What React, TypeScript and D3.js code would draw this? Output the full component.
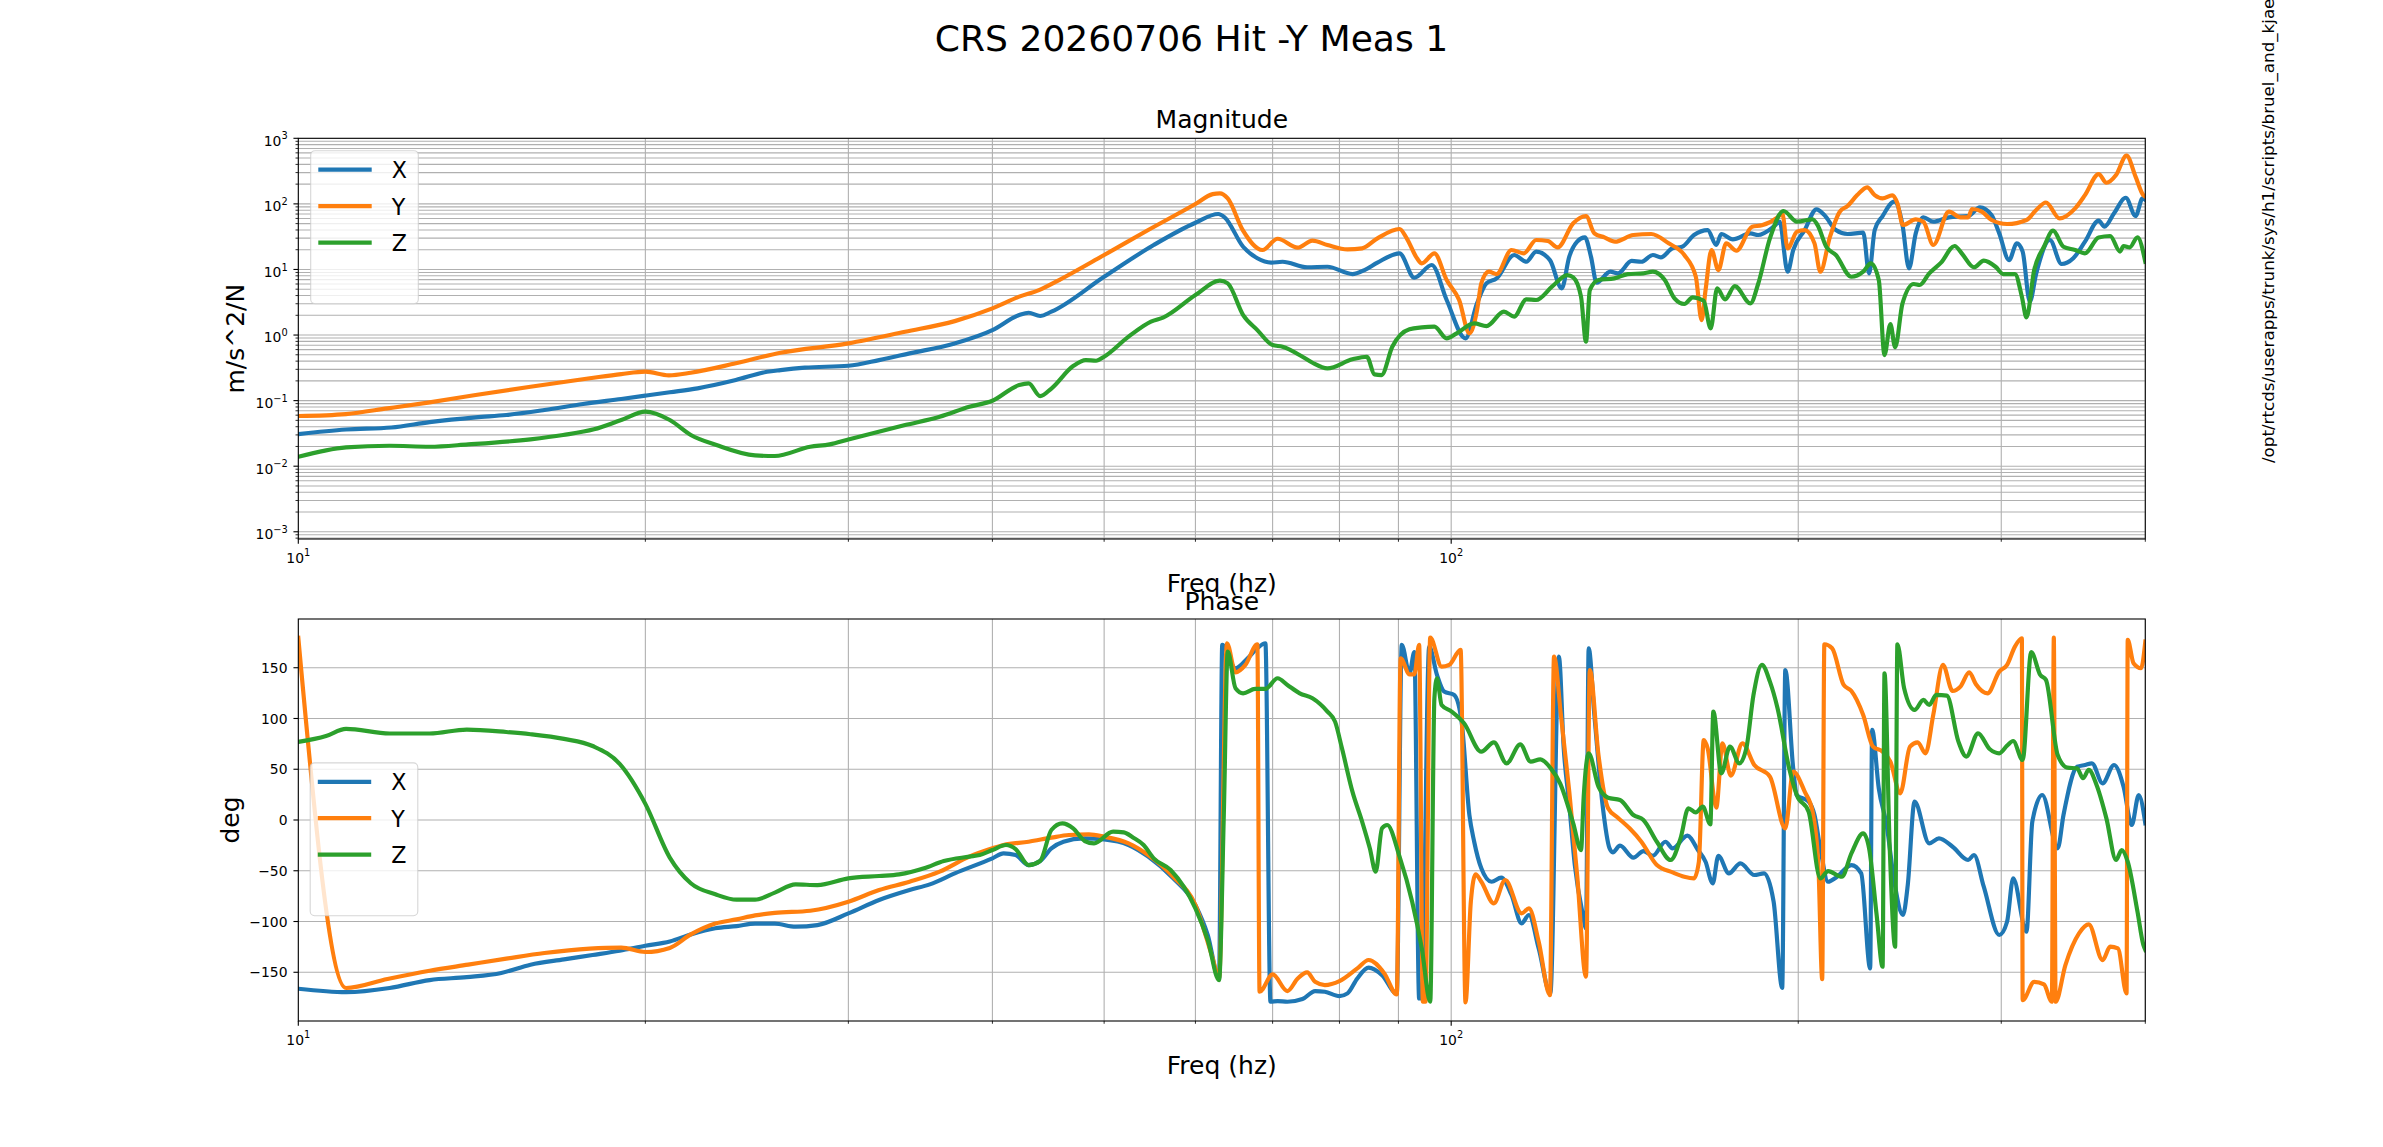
import React from 'react';
import * as d3 from 'd3';

// figure size in px (matplotlib-like layout)
const W = 2383;
const H = 1147;
const FONT = '"DejaVu Sans", sans-serif';

const seriesNames = ['X', 'Y', 'Z'];
const seriesColors = ['#1f77b4', '#ff7f0e', '#2ca02c'];

// magnitude, m/s^2/N, [Hz, value]
const magX: [number, number][] = [
  [10, 0.0309], [11, 0.0363], [12.04, 0.0389], [13, 0.0471], [14.25, 0.0556], [15.15, 0.0603],
  [16.35, 0.0718], [17.66, 0.0887], [19.06, 0.106], [20, 0.119], [21, 0.134], [22.2, 0.154],
  [23.96, 0.206], [25.5, 0.275], [26.2, 0.292], [27.5, 0.318], [30, 0.34], [31.9, 0.415],
  [33.9, 0.525], [37.1, 0.746], [40, 1.19], [42.2, 2.02], [43, 2.19], [44, 1.95], [45, 2.27],
  [50, 7.74], [55.2, 23.6], [60, 51.6], [62.8, 70.0], [63.6, 62.4], [66, 22.2], [67.9, 14.8],
  [69.8, 12.7], [71.4, 13.1], [75, 10.8], [78.1, 11.0], [82.1, 8.51], [84.1, 9.79], [86.3, 12.7],
  [90.2, 17.6], [92.9, 7.48], [96.2, 11.7], [99.1, 3.42], [102.9, 0.889], [105.3, 3.04],
  [107.3, 6.14], [109.5, 7.31], [113.4, 16.6], [116.2, 13.1], [118.5, 18.7], [121.8, 13.9],
  [124.7, 5.15], [126.6, 15.7], [128.6, 26.5], [130.6, 30.8], [132.2, 15.7], [133.7, 6.28],
  [137.4, 9.25], [139.5, 8.71], [143.4, 13.5], [146.2, 13.1], [149.6, 16.6], [152, 15.3],
  [155.6, 21.0], [158.6, 22.2], [162.4, 33.5], [166.9, 39.9], [169.8, 23.6], [171.5, 34.7],
  [175.5, 28.8], [181.8, 35.5], [184.6, 33.5], [190.4, 44.9], [192.7, 53.5], [195.8, 9.25],
  [198, 19.8], [202.6, 39.9], [207.4, 82.6], [210.7, 67.6], [215.6, 39.9], [220.7, 34.7],
  [227.7, 36.4], [230.4, 8.71], [233, 39.9], [236.7, 65.3], [242.3, 108], [246.3, 47.6],
  [249.5, 10.4], [252.9, 35.5], [256.8, 62.4], [261.9, 53.5], [270.2, 62.4], [280.8, 65.3],
  [287.5, 88.5], [294.2, 67.6], [298.8, 35.5], [304.7, 13.9], [309.5, 25.0], [313.1, 18.7],
  [317.6, 3.22], [321.7, 8.71], [330.6, 28.1], [338.4, 12.1], [346.4, 14.8], [354.6, 26.5],
  [364.4, 55.5], [368.7, 44.9], [375.8, 71.8], [384.7, 124], [392.3, 65.3], [397.8, 121], [400, 115],
];

const magY: [number, number][] = [
  [10, 0.0582], [11, 0.0624], [11.95, 0.0762], [13, 0.0942], [14.25, 0.122], [15.9, 0.163],
  [17.9, 0.219], [19.06, 0.254], [20, 0.276], [20.96, 0.243], [21.9, 0.266], [23.96, 0.371],
  [26.2, 0.537], [30, 0.746], [33.6, 1.12], [37.1, 1.63], [40, 2.55], [42.2, 3.85], [43.9, 4.85],
  [45.7, 6.9], [50, 16.6], [54.6, 39.9], [60, 99.5], [62.1, 141], [63, 145], [64, 121],
  [65.95, 39.9], [68.6, 19.8], [70.7, 29.4], [73.6, 21.5], [75.8, 27.5], [78.1, 23.6], [81.3, 20.2],
  [83.7, 21.0], [86.3, 29.8], [90.2, 41.4], [91.5, 29.8], [93.4, 14.8], [94.3, 12.4], [96.7, 17.6],
  [99.1, 6.9], [101.6, 3.42], [103.7, 1.06], [105.3, 2.4], [106.2, 6.14], [107.8, 9.25],
  [109.5, 8.51], [112.8, 19.8], [115.6, 17.6], [118.5, 28.1], [121.3, 27.2], [123.7, 21.7],
  [127.6, 50.5], [130.9, 65.3], [133.1, 35.5], [135.8, 30.8], [138.7, 26.5], [143.9, 33.5],
  [149.1, 34.7], [154.4, 25.0], [159.3, 16.6], [163, 7.74], [164.9, 1.69], [166.2, 4.85],
  [168.2, 19.8], [170.5, 9.79], [173.2, 25.0], [176.8, 19.3], [182.4, 44.9], [186, 47.1],
  [191.9, 62.4], [193.7, 71.8], [195.8, 21.0], [199.5, 37.7], [202.6, 39.9], [206.6, 25.0],
  [209, 9.25], [213.1, 31.6], [217.3, 76.0], [220.7, 92.7], [225, 136], [229.5, 179], [233, 136],
  [236.7, 121], [241.3, 135], [243.8, 102], [246.5, 47.6], [252.9, 58.1], [256.8, 53.5],
  [261.9, 23.6], [270.2, 76.0], [276.5, 62.4], [280.8, 62.4], [283, 83.6], [288.6, 76.0],
  [294.2, 56.8], [303.5, 49.3], [315.5, 56.8], [321.7, 80.7], [328, 105], [337.1, 60.1],
  [347.7, 85.5], [354.6, 136], [364.4, 285], [370.1, 210], [377.3, 275], [385.3, 543],
  [392.3, 260], [398.4, 136], [400, 129],
];

const magZ: [number, number][] = [
  [10, 0.0139], [11, 0.0194], [12, 0.0205], [13, 0.0198], [14.04, 0.0215], [15.9, 0.0257],
  [16.97, 0.0299], [18.05, 0.0365], [19.06, 0.0506], [20, 0.0678], [21, 0.0506], [21.9, 0.0299],
  [23.05, 0.021], [24.9, 0.0146], [25.9, 0.0143], [27.8, 0.0198], [28.9, 0.0215], [30, 0.0256],
  [33.6, 0.0424], [36, 0.0568], [38.2, 0.0807], [40, 0.0995], [42.2, 0.173], [43, 0.183],
  [44, 0.117], [45, 0.153], [47, 0.337], [48.2, 0.415], [49.2, 0.406], [50, 0.467], [52.5, 0.944],
  [54.9, 1.6], [56.3, 1.86], [60, 4.07], [63, 6.75], [64, 6.14], [66, 2.02], [67.9, 1.19],
  [70, 0.703], [71.4, 0.664], [74.3, 0.467], [75.8, 0.378], [78.1, 0.31], [82.1, 0.426],
  [84.5, 0.467], [85.8, 0.251], [87, 0.245], [88.9, 0.664], [92, 1.23], [94.3, 1.31], [96.7, 1.34],
  [99.1, 0.889], [101.1, 1.06], [104.7, 1.51], [107.3, 1.37], [111.1, 2.27], [113.4, 1.91],
  [116.2, 3.5], [118.5, 3.42], [122.3, 5.46], [126.1, 8.22], [127.6, 7.57], [129.6, 3.85],
  [130.9, 0.791], [131.9, 4.85], [134.2, 6.9], [138.5, 7.31], [142.3, 8.51], [146.8, 8.71],
  [149.6, 9.25], [153.2, 6.9], [156.2, 3.62], [159.3, 2.97], [162, 3.76], [165.6, 3.34],
  [167.9, 1.26], [170.1, 5.15], [172.8, 3.5], [176.2, 5.58], [181.8, 3.04], [184.6, 6.0],
  [189, 29.8], [194.2, 77.8], [199.5, 53.5], [205.8, 58.1], [208.2, 44.9], [211.5, 22.2],
  [215.6, 16.6], [222.4, 7.74], [227.7, 9.25], [231.2, 12.4], [234.9, 6.9], [237.6, 0.495],
  [240.4, 1.47], [242.7, 0.649], [246.3, 3.04], [251.9, 6.0], [254.9, 5.79], [259.8, 8.71],
  [266, 12.7], [273.3, 22.8], [277.5, 17.2], [284.1, 10.8], [289.7, 13.6], [296.6, 11.0],
  [301.2, 8.51], [308.3, 8.51], [312.6, 3.85], [315.5, 1.86], [320.4, 9.79], [326.7, 22.2],
  [332.7, 39.0], [339.7, 22.2], [347.7, 19.8], [354.6, 17.6], [364.4, 30.8], [372.9, 32.4],
  [380.3, 18.7], [383, 22.8], [387.7, 21.7], [393.8, 30.8], [400, 13.1],
];

// phase, deg, [Hz, value]
const phaseX: [number, number][] = [
  [10, -166.2], [11, -169.6], [12, -165.5], [13, -157.7], [14, -154.8], [15, -150.7], [15.9, -142.5],
  [17, -137.3], [18, -133], [19, -128.8], [20, -123.9], [21, -119.7], [21.9, -112.7], [23, -106.6],
  [24, -104.5], [24.9, -102.1], [25.9, -102.1], [27, -105.1], [28.2, -103.5], [30, -92.0],
  [31.9, -78.8], [33.9, -69.0], [35.3, -63.4], [37.1, -52.6], [40, -37.8], [40.9, -32.9],
  [41.9, -34.5], [43, -44.4], [44, -40.4], [45, -27.9], [46.1, -21.4], [48, -18.1], [50, -19.1],
  [52.5, -24.6], [54.6, -36.1], [57.4, -57.5], [60, -83.8], [61.5, -113.3], [62.9, -156.1],
  [63.3, 172.5], [65, 149.5], [66.6, 159.3], [67.9, 169.2], [69, 174.1], [69.7, -179.0],
  [70.7, -178.4], [72.1, -179.0], [74.3, -176.4], [76.2, -168.5], [77.7, -169.2], [80, -173.5],
  [81.3, -170.8], [82.9, -156.1], [84.8, -145.5], [87.1, -152.8], [89.7, -170.8], [90.6, 172.5],
  [92, 144.5], [92.9, 165.3], [93.8, -175.8], [94.3, -175.8], [95.7, 170.8], [97.2, 142.9],
  [98.6, 126.5], [100.6, 123.2], [102.1, 96.9], [103.7, 4.9], [104.7, -21.4], [106.2, -47.6],
  [108.4, -60.8], [110.5, -56.8], [112.8, -73.9], [115.1, -101.8], [116.8, -93.6], [119.1, -126.5],
  [121.9, -170.8], [124, 161.0], [125.2, 70.6], [126.6, 14.8], [128, -44.4], [130.1, -93.6],
  [130.9, -106.8], [131.6, 169.2], [133.1, 103.5], [135.3, 14.8], [137.2, -27.9], [138.1, -31.9],
  [140.1, -25.3], [143.9, -37.1], [146.8, -30.6], [149.6, -35.2], [153.4, -21.4], [155.6, -27.9],
  [160.3, -15.4], [163.7, -29.6], [166.2, -41.1], [168.6, -62.4], [170.5, -35.2], [174.1, -52.6],
  [178.2, -42.7], [183.2, -54.2], [186.8, -52.6], [190.4, -80.5], [193.7, -165.3], [194.9, 147.8],
  [198, 50.9], [199.4, 24.6], [204.2, 18.1], [206.6, 4.9], [209, -27.9], [212.3, -60.8],
  [215.6, -56.8], [222.4, -44.4], [226.8, -52.6], [230.9, -146.2], [231.8, 88.7], [234.9, 31.2],
  [238.6, -4.9], [242.3, -60.8], [246.5, -93.6], [248.9, -64.1], [252.3, 18.1], [259.8, -23.0],
  [264.9, -18.1], [272.2, -26.3], [280.8, -39.4], [284.1, -34.5], [289.7, -65.7], [298.8, -113.3],
  [303.5, -100.2], [307.2, -57.5], [315.5, -110.1], [319.2, -1.6], [325.6, 24.6], [335.8, -27.9],
  [339.7, 4.9], [349.1, 52.5], [354.6, 54.2], [359.6, 55.8], [367.3, 36.1], [375.8, 54.2],
  [383, 32.8], [389.3, -4.9], [394.8, 24.6], [400, -3.3],
];

const phaseY: [number, number][] = [
  [10, 179.5], [11, -165.5], [11.95, -156.6], [13, -148.5], [14.04, -142.5], [15.15, -136.6],
  [16.35, -131], [17.9, -126.7], [19.06, -125.7], [20, -130], [21, -126], [21.9, -112.7],
  [23, -102], [24, -97.9], [24.9, -94], [25.9, -91.5], [27.8, -89.4], [30, -80.5], [31.9, -69.0],
  [33.9, -60.8], [36, -50.9], [38.2, -36.1], [40, -27.9], [40.9, -24.6], [43, -21.4], [45, -17.4],
  [46.6, -14.8], [48.5, -14.1], [50, -16.4], [52.5, -23.0], [54.6, -34.5], [57.4, -55.9],
  [60, -83.8], [62.1, -136.3], [62.9, -156.1], [63.9, 174.1], [65, 145.5], [66.3, 152.8],
  [67.9, 173.1], [68.2, -169.2], [70, -152.1], [72.1, -168.5], [73.6, -156.1], [75, -150.1],
  [76.2, -159.4], [77.7, -162.6], [80, -158.7], [82.9, -146.2], [84.8, -137.9], [87.5, -151.1],
  [89.7, -171.8], [90.4, 159.3], [92, 143.5], [92.9, 143.5], [93.8, 172.5], [94.5, -179.0],
  [95, -179.0], [95.9, 179.7], [98.1, 151.1], [99.6, 152.8], [101.9, 167.6], [102.9, -179.7],
  [104, -80.5], [105, -53.6], [106.2, -60.8], [108.9, -82.1], [111.4, -59.1], [115.1, -92.0],
  [116.8, -87.1], [119.1, -119.9], [121.8, -172.5], [122.8, 161.0], [124.5, 103.5], [126.6, 27.9],
  [128.6, -54.2], [130.9, -154.4], [131.9, 147.8], [134.2, 64.0], [136.8, 11.5], [139.5, 2.3],
  [142.8, -8.2], [146.2, -21.4], [150.8, -44.4], [155.6, -51.6], [159.3, -55.9], [162.4, -57.5],
  [164, -41.1], [165.6, 78.8], [166.9, 70.6], [169.8, 12.2], [171.9, 75.5], [174.8, 43.7],
  [178.9, 75.5], [183.2, 54.2], [189, 42.7], [194.9, -8.2], [198, 47.6], [202.6, 27.9],
  [205.8, 8.2], [208.2, -44.4], [209.8, -156.7], [210.7, 173.1], [214, 169.2], [219, 133.0],
  [222.4, 127.1], [227.7, 103.5], [232.2, 72.3], [236.7, 67.3], [240.4, 57.5], [245.2, 26.3],
  [250, 72.3], [253.9, 76.5], [257.9, 65.7], [261.9, 103.5], [267, 152.8], [272.2, 127.1],
  [276.5, 131.4], [281.4, 145.5], [285.2, 133.7], [291.9, 124.8], [298.8, 146.2], [303.5, 152.8],
  [308.3, 170.8], [312.6, 179.0], [313.1, -177.4], [320.4, -159.4], [326.7, -162.0],
  [331.9, -179.0], [333.2, 179.7], [334.4, -179.0], [341, -142.9], [350.4, -111.7],
  [357.3, -102.8], [367.3, -138.0], [372.9, -124.8], [378.7, -126.5], [385.3, -170.8],
  [386.2, 177.4], [390.7, 154.4], [396.6, 149.5], [400, 175.7],
];

const phaseZ: [number, number][] = [
  [10, 76.9], [10.57, 82.8], [11, 89.8], [12, 85.2], [13, 85.2], [14, 89.1], [15.15, 86.7],
  [15.9, 84.5], [17, 79.9], [18, 72.9], [19, 55.2], [20, 15.9], [21, -37], [21.9, -62.3],
  [23, -73.2], [24, -78.5], [24.9, -78.5], [25.9, -71.5], [27, -63.4], [28.2, -64.1], [30, -57.5],
  [31.9, -55.2], [33.2, -53.6], [34.9, -47.6], [36.3, -40.4], [38.2, -36.1], [39, -34.5],
  [40, -29.6], [41.1, -24.6], [41.9, -28.6], [43, -44.4], [44, -40.4], [45, -9.9], [46, -3.3],
  [47, -8.2], [48.1, -20.7], [49, -23.0], [50.9, -11.5], [52, -12.2], [53, -17.4], [54.1, -24.6],
  [55.2, -37.8], [57.1, -49.3], [60, -87.1], [61.5, -118.3], [62.9, -157.7], [63.5, 4.9],
  [64, 165.9], [65, 129.8], [66, 124.8], [67.6, 129.1], [69, 129.1], [70.7, 139.6], [72.1, 133.0],
  [73.9, 124.8], [75.8, 119.9], [78.1, 106.8], [79.3, 96.9], [80.4, 70.6], [82.1, 27.9],
  [83.7, -1.6], [85, -27.9], [86, -50.9], [87.1, -8.2], [88, -4.9], [90.2, -36.1], [92.5, -80.5],
  [94.3, -126.5], [95.9, -179.0], [96.7, 119.9], [97.2, 139.6], [98.1, 113.3], [100.1, 106.8],
  [102.6, 95.3], [106.2, 67.3], [108.9, 76.5], [111.7, 55.8], [114.8, 74.5], [117.2, 57.5],
  [119.5, 59.8], [122, 50.9], [124.3, 36.1], [127.6, -3.3], [129.6, -29.6], [130.3, 23.0],
  [131.6, 65.7], [134.2, 32.8], [136.8, 21.9], [140.1, 19.7], [143.9, 4.9], [146.8, 0],
  [150.8, -21.4], [155, -39.4], [158.1, -18.1], [160.6, 11.5], [163, 7.5], [165.3, 13.1],
  [167.8, -4.3], [168.8, 106.8], [171.5, 46.0], [174.5, 72.3], [177.8, 55.8], [180.3, 70.6],
  [182.9, 123.2], [186, 152.8], [189, 136.3], [191.9, 110.1], [196.4, 50.9], [199.4, 24.6],
  [204.2, 8.2], [209, -57.5], [212.3, -50.3], [218.2, -55.9], [222.4, -32.9], [227.7, -13.1],
  [230.4, -27.9], [233.9, -93.6], [236.7, -144.5], [237.6, 144.5], [240.1, -27.9],
  [242.7, -124.8], [243.8, 173.1], [247.1, 129.8], [252.3, 108.4], [256.8, 118.3], [259.8, 113.3],
  [263.5, 123.2], [269.1, 122.5], [275.4, 77.2], [279.8, 62.4], [286.4, 85.4], [293.1, 69.9],
  [298.8, 65.7], [303.5, 73.2], [307.2, 77.8], [313.1, 59.1], [318.5, 165.3], [324.3, 142.9],
  [328, 138.0], [335.8, 64.0], [342.3, 51.6], [349.1, 50.9], [353.2, 41.1], [357.3, 49.3],
  [362.9, 34.5], [370.1, 1.6], [377.3, -39.4], [381.6, -29.6], [386.2, -41.1], [393.8, -90.3],
  [398.4, -122.8], [400, -128.0],
];

const magSeries = [magX, magY, magZ];
const phaseSeries = [phaseX, phaseY, phaseZ];

const freqDomain: [number, number] = [10, 400];
const magDomain: [number, number] = [7.76e-4, 1000];
const phaseDomain: [number, number] = [-198, 198];
const phaseTicks = [-150, -100, -50, 0, 50, 100, 150];
const magDecades = [-3, -2, -1, 0, 1, 2, 3];
const freqDecades = [1, 2];

const figTitle = 'CRS 20260706 Hit -Y Meas 1';
const sidePath = '/opt/rtcds/userapps/trunk/sys/h1/scripts/bruel_and_kjaer/plot_hit_results.py';

const GRID = '#b0b0b0';
const LW = 4.17;

const magBox = { left: 298.3, right: 2145.3, top: 138.3, bottom: 539 };
const phaseBox = { left: 298.3, right: 2145.3, top: 619, bottom: 1021 };

const fmtMinus = (n: number) => (n < 0 ? '\u2212' + Math.abs(n) : String(n));

function PowLabel({ x, y, exp, anchor }: { x: number; y: number; exp: number; anchor: string }) {
  return (
    <text x={x} y={y} textAnchor={anchor} fontSize={13.9} fontFamily={FONT} fill="#000">
      10<tspan dy={-6.3} fontSize={9.8}>{fmtMinus(exp)}</tspan>
    </text>
  );
}

function Legend({ left, top, rows }: { left: number; top: number; rows: number[] }) {
  return (
    <g>
      <rect x={left} y={top} width={107.6} height={rows[2] - rows[0] + 80} rx={4.4}
        fill="#fff" fillOpacity={0.8} stroke="#cccccc" strokeOpacity={0.8} strokeWidth={1.1} />
      {seriesNames.map((name, i) => (
        <g key={name}>
          <line x1={left + 7.6} x2={left + 61} y1={rows[i]} y2={rows[i]} stroke={seriesColors[i]} strokeWidth={LW} />
          <text x={left + 81} y={rows[i] + 8.4} fontSize={22.2} fontFamily={FONT} fill="#000">{name}</text>
        </g>
      ))}
    </g>
  );
}

export default function App() {
  const x = d3.scaleLog().domain(freqDomain).range([magBox.left, magBox.right]);
  const yMag = d3.scaleLog().domain(magDomain).range([magBox.bottom, magBox.top]);
  const yPh = d3.scaleLinear().domain(phaseDomain).range([phaseBox.bottom, phaseBox.top]);

  const xAll = x.ticks();
  const xMajor = freqDecades.map(e => Math.pow(10, e));
  const yMagAll = yMag.ticks();
  const yMagMajor = magDecades.map(e => Math.pow(10, e));

  const isMajorX = (v: number) => xMajor.some(m => Math.abs(m - v) / m < 1e-9);
  const isMajorY = (v: number) => yMagMajor.some(m => Math.abs(m - v) / m < 1e-9);

  const magLine = d3.line<[number, number]>()
    .x(d => x(d[0]))
    .y(d => yMag(d[1]))
    .curve(d3.curveMonotoneX);
  const phLine = d3.line<[number, number]>()
    .x(d => x(d[0]))
    .y(d => yPh(d[1]))
    .curve(d3.curveMonotoneX);

  const axesBox = (b: typeof magBox) => (
    <rect x={b.left} y={b.top} width={b.right - b.left} height={b.bottom - b.top}
      fill="none" stroke="#000" strokeWidth={1.1} />
  );

  const xTicks = (b: typeof magBox, labelY: number) => (
    <g>
      {xAll.map((v, i) => {
        const major = isMajorX(v);
        return (
          <line key={i} x1={x(v)} x2={x(v)} y1={b.bottom} y2={b.bottom + (major ? 4.86 : 2.78)}
            stroke="#000" strokeWidth={major ? 1.1 : 0.83} />
        );
      })}
      {freqDecades.map(e => (
        <PowLabel key={e} x={x(Math.pow(10, e))} y={labelY} exp={e} anchor="middle" />
      ))}
    </g>
  );

  return (
    <svg width={W} height={H} viewBox={`0 0 ${W} ${H}`}
      style={{ position: 'absolute', left: 0, top: 0, background: '#fff' }}>
      <defs>
        <clipPath id="clipMag">
          <rect x={magBox.left} y={magBox.top} width={magBox.right - magBox.left} height={magBox.bottom - magBox.top} />
        </clipPath>
        <clipPath id="clipPh">
          <rect x={phaseBox.left} y={phaseBox.top} width={phaseBox.right - phaseBox.left} height={phaseBox.bottom - phaseBox.top} />
        </clipPath>
      </defs>
      <rect x={0} y={0} width={W} height={H} fill="#fff" />

      <text x={W / 2} y={50.7} textAnchor="middle" fontSize={36.1} fontFamily={FONT}>{figTitle}</text>
      <text transform="translate(2274,463) rotate(-90)" fontSize={16.7} fontFamily={FONT}>{sidePath}</text>

      {/* magnitude */}
      <g>
        <g clipPath="url(#clipMag)">
          {yMagAll.map((v, i) => (
            <line key={'gy' + i} x1={magBox.left} x2={magBox.right} y1={yMag(v)} y2={yMag(v)} stroke={GRID} strokeWidth={1.1} />
          ))}
          {xAll.map((v, i) => (
            <line key={'gx' + i} x1={x(v)} x2={x(v)} y1={magBox.top} y2={magBox.bottom} stroke={GRID} strokeWidth={1.1} />
          ))}
          {magSeries.map((s, i) => (
            <path key={i} d={magLine(s) || ''} fill="none" stroke={seriesColors[i]} strokeWidth={LW}
              strokeLinejoin="round" strokeLinecap="square" />
          ))}
        </g>
        {axesBox(magBox)}
        {yMagAll.map((v, i) => {
          const major = isMajorY(v);
          return (
            <line key={'ty' + i} x1={magBox.left - (major ? 4.86 : 2.78)} x2={magBox.left} y1={yMag(v)} y2={yMag(v)}
              stroke="#000" strokeWidth={major ? 1.1 : 0.83} />
          );
        })}
        {magDecades.map(e => (
          <PowLabel key={e} x={287.7} y={yMag(Math.pow(10, e)) + 7.4} exp={e} anchor="end" />
        ))}
        {xTicks(magBox, 562.5)}
        <text x={(magBox.left + magBox.right) / 2} y={128.3} textAnchor="middle" fontSize={25} fontFamily={FONT}>Magnitude</text>
        <text x={(magBox.left + magBox.right) / 2} y={591.7} textAnchor="middle" fontSize={25} fontFamily={FONT}>Freq (hz)</text>
        <text transform={`translate(244,${(magBox.top + magBox.bottom) / 2}) rotate(-90)`} textAnchor="middle"
          fontSize={25} fontFamily={FONT}>m/s^2/N</text>
        <Legend left={310.7} top={150.7} rows={[169.7, 206.2, 242.7]} />
      </g>

      {/* phase */}
      <g>
        <g clipPath="url(#clipPh)">
          {phaseTicks.map((v, i) => (
            <line key={'gy' + i} x1={phaseBox.left} x2={phaseBox.right} y1={yPh(v)} y2={yPh(v)} stroke={GRID} strokeWidth={1.1} />
          ))}
          {xAll.map((v, i) => (
            <line key={'gx' + i} x1={x(v)} x2={x(v)} y1={phaseBox.top} y2={phaseBox.bottom} stroke={GRID} strokeWidth={1.1} />
          ))}
          {phaseSeries.map((s, i) => (
            <path key={i} d={phLine(s) || ''} fill="none" stroke={seriesColors[i]} strokeWidth={LW}
              strokeLinejoin="round" strokeLinecap="square" />
          ))}
        </g>
        {axesBox(phaseBox)}
        {phaseTicks.map((v, i) => (
          <g key={'ty' + i}>
            <line x1={phaseBox.left - 4.86} x2={phaseBox.left} y1={yPh(v)} y2={yPh(v)} stroke="#000" strokeWidth={1.1} />
            <text x={287.5} y={yPh(v) + 5.1} textAnchor="end" fontSize={13.9} fontFamily={FONT}>{fmtMinus(v)}</text>
          </g>
        ))}
        {xTicks(phaseBox, 1044.5)}
        <text x={(phaseBox.left + phaseBox.right) / 2} y={610} textAnchor="middle" fontSize={25} fontFamily={FONT}>Phase</text>
        <text x={(phaseBox.left + phaseBox.right) / 2} y={1073.7} textAnchor="middle" fontSize={25} fontFamily={FONT}>Freq (hz)</text>
        <text transform={`translate(239,${(phaseBox.top + phaseBox.bottom) / 2}) rotate(-90)`} textAnchor="middle"
          fontSize={25} fontFamily={FONT}>deg</text>
        <Legend left={310.2} top={762.9} rows={[781.8, 818.2, 854.6]} />
      </g>
    </svg>
  );
}
